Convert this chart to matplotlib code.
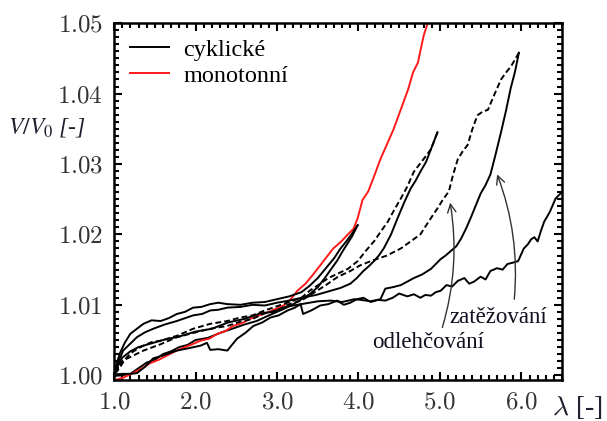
import matplotlib
matplotlib.use("Agg")
import matplotlib.pyplot as plt
from matplotlib.ticker import MultipleLocator, FormatStrFormatter

# monotonni zatezovani (cervena)
red_lam = [1.01, 1.12, 1.23, 1.33, 1.44, 1.55, 1.65, 1.75, 1.85, 1.96, 2.06, 2.17, 2.27, 2.37,
           2.46, 2.57, 2.67, 2.78, 2.88, 2.98, 3.08, 3.17, 3.25, 3.35, 3.45, 3.57, 3.69, 3.78,
           3.87, 3.94, 3.99, 4.05, 4.12, 4.19, 4.27, 4.35, 4.43, 4.49, 4.55, 4.61, 4.67, 4.73,
           4.80, 4.85]
red_V = [0.9993, 0.9997, 1.0003, 1.0009, 1.0017, 1.0022, 1.0028, 1.0034, 1.0039, 1.0044,
         1.0049, 1.0052, 1.0059, 1.0063, 1.0070, 1.0074, 1.0080, 1.0085, 1.0089, 1.0094,
         1.0099, 1.0108, 1.0120, 1.0130, 1.0144, 1.0162, 1.0180, 1.0189, 1.0200, 1.0208,
         1.0223, 1.0249, 1.0261, 1.0282, 1.0307, 1.0328, 1.0349, 1.0368, 1.0387, 1.0406,
         1.0430, 1.0444, 1.0482, 1.0500]

# cyklicke - zatezovani do 4.0
l1_lam = [1.00, 1.10, 1.20, 1.30, 1.40, 1.50, 1.60, 1.70, 1.80, 1.90, 2.00, 2.15, 2.30, 2.45,
          2.60, 2.75, 2.90, 3.00, 3.10, 3.20, 3.30, 3.40, 3.50, 3.58, 3.66, 3.74, 3.80, 3.86,
          3.92, 3.99]
l1_V = [0.9999, 1.0000, 1.0002, 1.0010, 1.0018, 1.0022, 1.0030, 1.0034, 1.0040, 1.0043,
        1.0050, 1.0053, 1.0060, 1.0066, 1.0072, 1.0077, 1.0085, 1.0090, 1.0095, 1.0101,
        1.0108, 1.0115, 1.0125, 1.0137, 1.0150, 1.0163, 1.0175, 1.0186, 1.0197, 1.0213]

# odlehceni ze 4.0
u1_lam = [3.99, 3.92, 3.85, 3.78, 3.70, 3.60, 3.50, 3.40, 3.30, 3.15, 3.00, 2.85, 2.70, 2.55,
          2.39, 2.28, 2.18, 2.07, 1.97, 1.87, 1.77, 1.67, 1.57, 1.46, 1.36, 1.28, 1.20, 1.13,
          1.07, 1.02]
u1_V = [1.0213, 1.0201, 1.0190, 1.0180, 1.0166, 1.0152, 1.0138, 1.0127, 1.0118, 1.0112,
        1.0108, 1.0104, 1.0103, 1.0100, 1.0101, 1.0103, 1.0101, 1.0097, 1.0096, 1.0090,
        1.0087, 1.0081, 1.0077, 1.0078, 1.0073, 1.0066, 1.0059, 1.0046, 1.0031, 1.0012]

# zatezovani do 5.0
l2_lam = [1.00, 1.05, 1.11, 1.20, 1.28, 1.38, 1.48, 1.62, 1.77, 1.87, 1.97, 2.08, 2.18, 2.28,
          2.39, 2.55, 2.70, 2.85, 3.00, 3.15, 3.30, 3.48, 3.66, 3.78, 3.90, 3.98, 4.06, 4.12,
          4.19, 4.25, 4.31, 4.40, 4.48, 4.56, 4.64, 4.70, 4.76, 4.83, 4.89, 4.97]
l2_V = [1.0004, 1.0018, 1.0035, 1.0045, 1.0054, 1.0061, 1.0066, 1.0072, 1.0077, 1.0081,
        1.0085, 1.0087, 1.0092, 1.0093, 1.0096, 1.0097, 1.0100, 1.0099, 1.0103, 1.0106,
        1.0110, 1.0114, 1.0120, 1.0124, 1.0130, 1.0138, 1.0148, 1.0154, 1.0162, 1.0170,
        1.0180, 1.0200, 1.0223, 1.0245, 1.0265, 1.0276, 1.0289, 1.0303, 1.0321, 1.0345]

# odlehceni z 5.0 (carkovane)
u2_lam = [4.97, 4.89, 4.80, 4.68, 4.60, 4.52, 4.44, 4.36, 4.28, 4.19, 4.10, 3.99, 3.87, 3.74,
          3.63, 3.53, 3.40, 3.30, 3.15, 3.00, 2.85, 2.70, 2.55, 2.39, 2.18, 1.97, 1.77, 1.57,
          1.46, 1.36, 1.28, 1.20, 1.13, 1.07, 1.02]
u2_V = [1.0345, 1.0321, 1.0307, 1.0289, 1.0268, 1.0251, 1.0235, 1.0218, 1.0205, 1.0190,
        1.0178, 1.0162, 1.0151, 1.0144, 1.0138, 1.0130, 1.0120, 1.0110, 1.0104, 1.0098,
        1.0092, 1.0085, 1.0082, 1.0077, 1.0073, 1.0066, 1.0056, 1.0049, 1.0047, 1.0042,
        1.0037, 1.0031, 1.0022, 1.0011, 1.0003]

# zatezovani do 6.0
l3_lam = [1.00, 1.05, 1.10, 1.20, 1.30, 1.45, 1.60, 1.80, 2.00, 2.20, 2.40, 2.60, 2.80, 2.95,
          3.10, 3.30, 3.50, 3.66, 3.80, 3.95, 4.03, 4.15, 4.27, 4.33, 4.42, 4.52, 4.60, 4.68,
          4.78, 4.89, 4.95, 5.01, 5.07, 5.13, 5.20, 5.26, 5.32, 5.38, 5.44, 5.50, 5.56, 5.62,
          5.68, 5.75, 5.81, 5.87, 5.92, 5.97]
l3_V = [1.0002, 1.0014, 1.0025, 1.0034, 1.0040, 1.0045, 1.0050, 1.0055, 1.0062, 1.0066,
        1.0075, 1.0080, 1.0088, 1.0090, 1.0097, 1.0101, 1.0105, 1.0106, 1.0104, 1.0108,
        1.0107, 1.0105, 1.0108, 1.0123, 1.0125, 1.0128, 1.0133, 1.0138, 1.0143, 1.0151,
        1.0158, 1.0165, 1.0170, 1.0176, 1.0183, 1.0194, 1.0208, 1.0224, 1.0241, 1.0258,
        1.0270, 1.0285, 1.0312, 1.0345, 1.0375, 1.0408, 1.0430, 1.0458]

# odlehceni z 6.0 (carkovane)
u3_lam = [5.97, 5.88, 5.80, 5.75, 5.67, 5.59, 5.52, 5.46, 5.40, 5.34, 5.28, 5.22, 5.16, 5.11,
          5.04, 4.97, 4.86, 4.76, 4.64, 4.52, 4.35, 4.15, 4.02, 3.90, 3.75, 3.60, 3.45, 3.30,
          3.15, 3.00, 2.85, 2.70, 2.55, 2.39, 2.18, 1.97, 1.77, 1.57, 1.36, 1.20, 1.11, 1.03]
u3_V = [1.0458, 1.0440, 1.0428, 1.0420, 1.0399, 1.0377, 1.0374, 1.0369, 1.0350, 1.0327,
        1.0318, 1.0307, 1.0284, 1.0261, 1.0250, 1.0237, 1.0218, 1.0200, 1.0190, 1.0180,
        1.0170, 1.0162, 1.0156, 1.0148, 1.0140, 1.0128, 1.0117, 1.0106, 1.0101, 1.0092,
        1.0088, 1.0080, 1.0076, 1.0070, 1.0066, 1.0060, 1.0054, 1.0044, 1.0035, 1.0026,
        1.0021, 1.0008]

# zatezovani do 6.5
l4_lam = [1.00, 1.10, 1.20, 1.28, 1.38, 1.48, 1.60, 1.77, 1.90, 2.06, 2.14, 2.18, 2.28, 2.39,
          2.51, 2.61, 2.71, 2.82, 2.92, 3.02, 3.13, 3.22, 3.29, 3.32, 3.42, 3.53, 3.63, 3.74,
          3.82, 3.90, 3.98, 4.06, 4.15, 4.24, 4.33, 4.42, 4.50, 4.60, 4.68, 4.76, 4.82, 4.89,
          4.95, 5.01, 5.08, 5.15, 5.22, 5.30, 5.36, 5.42, 5.50, 5.56, 5.62, 5.70, 5.77, 5.83,
          5.90, 5.96, 6.03, 6.08, 6.12, 6.16, 6.20, 6.24, 6.28, 6.35, 6.42, 6.48]
l4_V = [1.0001, 1.0002, 1.0002, 1.0003, 1.0012, 1.0024, 1.0028, 1.0035, 1.0038, 1.0042,
        1.0046, 1.0036, 1.0037, 1.0035, 1.0052, 1.0060, 1.0070, 1.0075, 1.0082, 1.0085,
        1.0092, 1.0096, 1.0101, 1.0087, 1.0092, 1.0099, 1.0101, 1.0106, 1.0100, 1.0103,
        1.0108, 1.0110, 1.0104, 1.0107, 1.0106, 1.0110, 1.0116, 1.0112, 1.0115, 1.0110,
        1.0114, 1.0113, 1.0118, 1.0120, 1.0128, 1.0126, 1.0134, 1.0138, 1.0130, 1.0133,
        1.0140, 1.0136, 1.0148, 1.0152, 1.0150, 1.0158, 1.0160, 1.0162, 1.0180, 1.0186,
        1.0193, 1.0196, 1.0190, 1.0205, 1.0218, 1.0232, 1.0251, 1.0258]

# popisky sipek: (text, pozice textu, zacatek sipky, konec sipky)
ann_texts = ["zatěžování", "odlehčování"]
ann_text_pos = [(5.72, 1.0082), (4.85, 1.0046)]
ann_start = [(5.91, 1.0104), (5.02, 1.0064)]
ann_end = [(5.69, 1.0289), (5.12, 1.0249)]

x_ticks = [1.0, 2.0, 3.0, 4.0, 5.0, 6.0]
y_ticks = [1.00, 1.01, 1.02, 1.03, 1.04, 1.05]

plt.rcParams["mathtext.fontset"] = "cm"
plt.rcParams["font.family"] = "Liberation Serif"

fig = plt.figure(figsize=(6.07, 4.21), dpi=100)
ax = fig.add_axes([0.188, 0.097, 0.738, 0.848])

lw = 1.4
ax.plot(l1_lam, l1_V, color="black", lw=lw, label="cyklické")
ax.plot(red_lam, red_V, color="#ff1a1a", lw=lw, label="monotonní")
ax.plot(u1_lam, u1_V, color="black", lw=lw)
ax.plot(l2_lam, l2_V, color="black", lw=lw)
ax.plot(u2_lam, u2_V, color="black", lw=lw, ls=(0, (3, 1.6)))
ax.plot(l3_lam, l3_V, color="black", lw=lw)
ax.plot(u3_lam, u3_V, color="black", lw=lw, ls=(0, (3, 1.6)))
ax.plot(l4_lam, l4_V, color="black", lw=lw)

for txt, tp, st, en in zip(ann_texts, ann_text_pos, ann_start, ann_end):
    ax.annotate("", xy=en, xytext=st,
                arrowprops=dict(arrowstyle="->,head_length=0.6,head_width=0.3",
                                connectionstyle="arc3,rad=0.12", color="#333333", lw=1.0))
    ax.text(tp[0], tp[1], txt, fontsize=16.5, ha="center", va="center", color="#101020")

ax.set_xlim(1.0, 6.5)
ax.set_ylim(0.9993, 1.05)
ax.set_xticks(x_ticks)
ax.set_yticks(y_ticks)
ax.xaxis.set_minor_locator(MultipleLocator(0.1))
ax.yaxis.set_minor_locator(MultipleLocator(0.001))
ax.xaxis.set_major_formatter(FormatStrFormatter(r"$%.1f$"))
ax.yaxis.set_major_formatter(FormatStrFormatter(r"$%.2f$"))
ax.tick_params(which="both", direction="in", top=True, right=True, width=1.5)
ax.tick_params(which="major", length=6, labelsize=18, labelcolor="#333333")
ax.tick_params(axis="y", which="major", pad=8)
ax.tick_params(axis="x", which="major", pad=8)
ax.tick_params(which="minor", length=3.5)
for s in ax.spines.values():
    s.set_linewidth(1.8)

fig.text(0.014, 0.698, r"$V/V_0$ [-]", fontsize=17, math_fontfamily="stix",
         style="italic", ha="left", va="center", color="#202030")
fig.text(0.910, 0.032, r"$\lambda$ [-]", fontsize=20, ha="left", va="center",
         color="#202030")

leg = ax.legend(loc="upper left", frameon=False, fontsize=17.5, handlelength=1.6,
                borderaxespad=0.25, labelspacing=0.15, handletextpad=0.6)

fig.savefig("out.png", dpi=100)
